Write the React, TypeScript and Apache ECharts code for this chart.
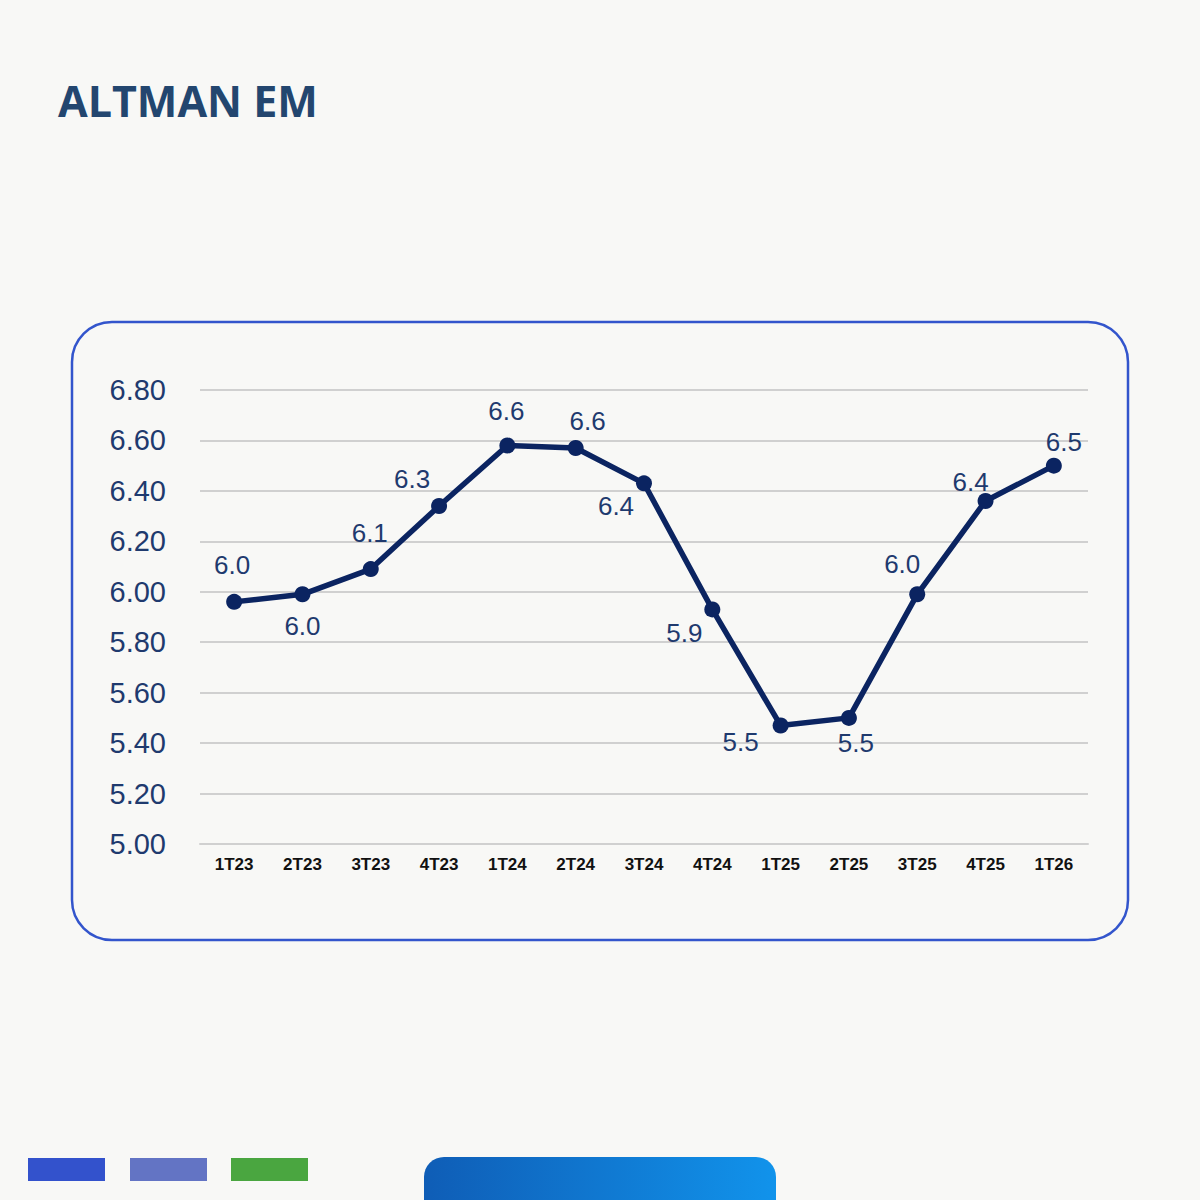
import React, { useEffect, useRef } from "react";
import * as echarts from "echarts";

const categories = ["1T23", "2T23", "3T23", "4T23", "1T24", "2T24", "3T24", "4T24", "1T25", "2T25", "3T25", "4T25", "1T26"];
const values = [5.96, 5.99, 6.09, 6.34, 6.58, 6.57, 6.43, 5.93, 5.47, 5.5, 5.99, 6.36, 6.5];
const labelOffsets: [number, number][] = [
  [-2, -37], [0, 32], [-1, -36], [-27, -27], [-1, -34], [12, -27], [-28, 23],
  [-28, 24], [-40, 17], [7, 25], [-15, -30], [-15, -19], [10, -24],
];
const yTicks = { min: 5.0, max: 6.8, interval: 0.2 };

export default function App() {
  const ref = useRef<HTMLDivElement>(null);
  useEffect(() => {
    document.body.style.margin = "0";
    document.body.style.background = "#f8f8f6";
    const chart = echarts.init(ref.current!, null, { renderer: "svg" });
    chart.setOption({
      animation: false,
      backgroundColor: "#f8f8f6",
      title: {
        text: "ALTMAN EM",
        left: 53,
        top: 74,
        textStyle: { fontFamily: "Open Sans", fontWeight: "bold", fontSize: 43, color: "#23466f" },
      },
      grid: { left: 200, right: 112, top: 390, bottom: 356, containLabel: false },
      xAxis: {
        type: "category",
        data: categories,
        boundaryGap: true,
        axisLine: { show: true, lineStyle: { color: "#d0d0d0", width: 2 } },
        axisTick: { show: false },
        axisLabel: { color: "#111", fontFamily: "Liberation Sans", fontWeight: "bold", fontSize: 17, margin: 12 },
      },
      yAxis: {
        type: "value",
        min: yTicks.min,
        max: yTicks.max,
        interval: yTicks.interval,
        axisLine: { show: false },
        axisTick: { show: false },
        splitLine: { lineStyle: { color: "#d0d0d0", width: 2 } },
        axisLabel: {
          color: "#1f3a6e",
          fontFamily: "Liberation Sans",
          fontSize: 29,
          margin: 34,
          formatter: (v: number) => v.toFixed(2),
        },
      },
      series: [
        {
          type: "line",
          data: values.map((v, i) => ({
            value: v,
            label: { offset: labelOffsets[i] },
          })),
          symbol: "circle",
          symbolSize: 16,
          lineStyle: { color: "#0b2461", width: 5.5 },
          itemStyle: { color: "#0b2461" },
          label: {
            show: true,
            position: "inside",
            color: "#1f3a6e",
            fontFamily: "Liberation Sans",
            fontSize: 26,
            formatter: (p: any) => Number(p.value).toFixed(1),
          },
          z: 5,
        },
      ],
      graphic: [
        {
          type: "rect",
          shape: { x: 72, y: 322, width: 1056, height: 618, r: 40 },
          style: { fill: "none", stroke: "#3355cc", lineWidth: 2.5 },
          z: -1,
        },
        { type: "rect", shape: { x: 28, y: 1158, width: 77, height: 23 }, style: { fill: "#3352cc" } },
        { type: "rect", shape: { x: 130, y: 1158, width: 77, height: 23 }, style: { fill: "#6374c4" } },
        { type: "rect", shape: { x: 231, y: 1158, width: 77, height: 23 }, style: { fill: "#4aa640" } },
        {
          type: "rect",
          shape: { x: 424, y: 1157, width: 352, height: 60, r: [20, 20, 0, 0] },
          style: {
            fill: new echarts.graphic.LinearGradient(0, 0, 1, 0, [
              { offset: 0, color: "#0f5db6" },
              { offset: 1, color: "#1193eb" },
            ]),
          },
        },
      ],
    });
    return () => chart.dispose();
  }, []);
  return <div ref={ref} style={{ width: 1200, height: 1200 }} />;
}
